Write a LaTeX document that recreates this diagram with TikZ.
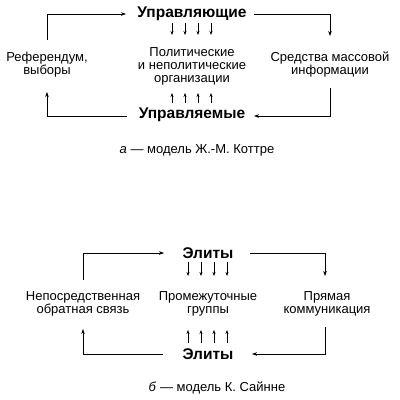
\documentclass[tikz,border=0pt]{standalone}
\usepackage{fontspec}
\setmainfont{Liberation Sans}
\usetikzlibrary{arrows.meta}
\begin{document}
\begin{tikzpicture}[x=1pt,y=-1pt,
  lbl/.style={align=center,font=\fontsize{13}{13}\selectfont,inner sep=0pt},
  big/.style={font=\fontsize{15.5}{16}\selectfont\bfseries,inner sep=0pt},
  captxt/.style={font=\fontsize{13}{13}\selectfont,inner sep=0pt},
  con/.style={line width=0.6pt,-{Stealth[length=5pt,width=3.5pt]}},
  sm/.style={line width=0.6pt,-{Stealth[length=4pt,width=3pt]}}]
\useasboundingbox (0,0) rectangle (400,400);
% ---- diagram a
\node[big] (upr) at (192,14) {Управляющие};
\node[big] (uprm) at (192,115) {Управляемые};
\node[lbl] (ref) at (47,64.5) {Референдум,\\выборы};
\node[lbl] (pol) at (192,66) {Политические\\и неполитические\\организации};
\node[lbl] (smi) at (330,64.5) {Средства массовой\\информации};
\node[captxt] (capa) at (197,150) {\textit{а} — модель Ж.-М. Коттре};
\coordinate (a1) at (47,40);
\coordinate (a2) at (47,14);
\coordinate (a3) at (126,14);
\draw[con] (a1) -- (a2) -- (a3);
\coordinate (b1) at (254,14);
\coordinate (b2) at (330,14);
\coordinate (b3) at (330,36);
\draw[con] (b1) -- (b2) -- (b3);
\coordinate (c1) at (330,88);
\coordinate (c2) at (330,116);
\coordinate (c3) at (254,116);
\draw[con] (c1) -- (c2) -- (c3);
\coordinate (d1) at (127,116);
\coordinate (d2) at (47,116);
\coordinate (d3) at (47,92);
\draw[con] (d1) -- (d2) -- (d3);
\foreach \x [count=\i] in {172,185,198,211}{
  \coordinate (dt\i) at (\x,23);
  \coordinate (db\i) at (\x,35);
  \draw[sm] (dt\i) -- (db\i);
  \coordinate (ut\i) at (\x,93);
  \coordinate (ub\i) at (\x,103);
  \draw[sm] (ub\i) -- (ut\i);
}
% ---- diagram b
\node[big] (el1) at (208,253) {Элиты};
\node[big] (el2) at (208,354) {Элиты};
\node[lbl] (nep) at (83,303.5) {Непосредственная\\обратная связь};
\node[lbl] (prom) at (208,303.5) {Промежуточные\\группы};
\node[lbl] (pr) at (327,303.5) {Прямая\\коммуникация};
\node[captxt] (capb) at (217,388) {\textit{б} — модель К. Сайнне};
\coordinate (e1) at (83,280);
\coordinate (e2) at (83,253);
\coordinate (e3) at (164,253);
\draw[con] (e1) -- (e2) -- (e3);
\coordinate (f1) at (250,253);
\coordinate (f2) at (325,253);
\coordinate (f3) at (325,276);
\draw[con] (f1) -- (f2) -- (f3);
\coordinate (g1) at (325,327);
\coordinate (g2) at (325,354);
\coordinate (g3) at (252,354);
\draw[con] (g1) -- (g2) -- (g3);
\coordinate (h1) at (163,354);
\coordinate (h2) at (83,354);
\coordinate (h3) at (83,329);
\draw[con] (h1) -- (h2) -- (h3);
\foreach \x [count=\i] in {188,201,214,227}{
  \coordinate (et\i) at (\x,262);
  \coordinate (eb\i) at (\x,276);
  \draw[sm] (et\i) -- (eb\i);
  \coordinate (ft\i) at (\x,330);
  \coordinate (fb\i) at (\x,343);
  \draw[sm] (fb\i) -- (ft\i);
}
\end{tikzpicture}
\end{document}
